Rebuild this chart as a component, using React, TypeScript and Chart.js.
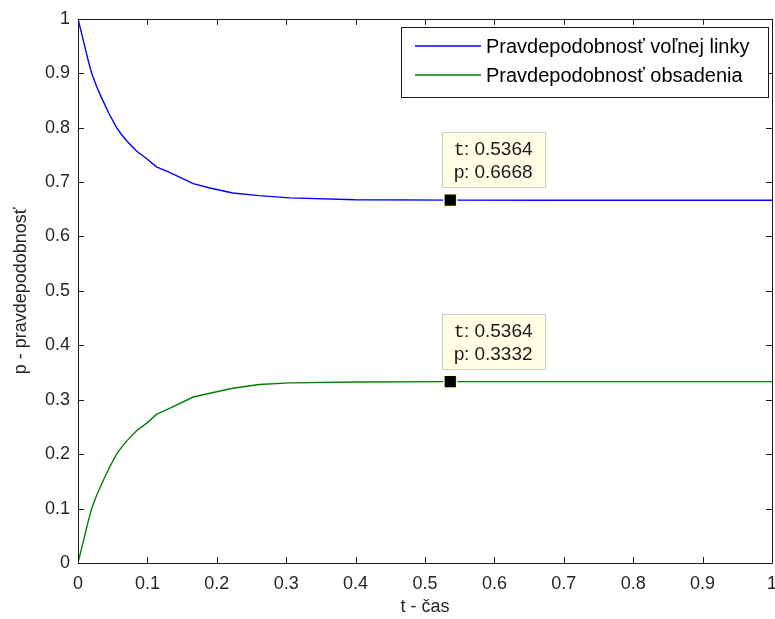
import React, { useEffect, useRef } from "react";
import { Chart, registerables } from "chart.js";

Chart.register(...registerables);

// time values (t) and probabilities
const tValues = [0, 0.005, 0.01, 0.015, 0.0197, 0.027, 0.035, 0.045, 0.0556, 0.063, 0.07, 0.0843, 0.1, 0.113, 0.132, 0.166, 0.19, 0.223, 0.261, 0.305, 0.4, 0.5364, 0.7, 0.85, 1.0];
const freeLine = [1.0, 0.974, 0.948, 0.922, 0.9, 0.875, 0.852, 0.825, 0.8, 0.787, 0.776, 0.757, 0.742, 0.728, 0.718, 0.697, 0.689, 0.68, 0.675, 0.671, 0.6675, 0.6668, 0.6667, 0.6667, 0.6667];
const occupied = [0.0, 0.026, 0.052, 0.078, 0.1, 0.125, 0.148, 0.175, 0.2, 0.213, 0.224, 0.243, 0.258, 0.273, 0.284, 0.305, 0.312, 0.321, 0.328, 0.331, 0.3325, 0.3332, 0.3333, 0.3333, 0.3333];

const tipT = [0.5364, 0.5364];
const tipP = [0.6668, 0.3332];

const legendLabels = ["Pravdepodobnosť voľnej linky", "Pravdepodobnosť obsadenia"];
const seriesColors = ["#0000ff", "#008000"];
const xTitle = "t - čas";
const yTitle = "p - pravdepodobnosť";

const SANS = "'Liberation Sans', Arial, sans-serif";
const MONO = "'Liberation Mono', 'Courier New', monospace";
const AXIS_COLOR = "#1a1a1a";
const TEXT_COLOR = "#262626";

const fmt = (v: number) => String(Number(Number(v).toFixed(1)));

const framePlugin = {
  id: "frame",
  afterDatasetsDraw(chart: any) {
    const { ctx, chartArea: a, scales } = chart;
    ctx.save();
    ctx.strokeStyle = AXIS_COLOR;
    ctx.lineWidth = 1;
    ctx.beginPath();
    ctx.rect(Math.round(a.left) + 0.5, Math.round(a.top) + 0.5, Math.round(a.right - a.left), Math.round(a.bottom - a.top));
    ctx.stroke();
    const tl = 6;
    ctx.beginPath();
    for (let i = 0; i <= 10; i++) {
      const v = i / 10;
      const x = Math.round(scales.x.getPixelForValue(v)) + 0.5;
      ctx.moveTo(x, a.bottom);
      ctx.lineTo(x, a.bottom - tl);
      ctx.moveTo(x, a.top);
      ctx.lineTo(x, a.top + tl);
      const y = Math.round(scales.y.getPixelForValue(v)) + 0.5;
      ctx.moveTo(a.left, y);
      ctx.lineTo(a.left + tl, y);
      ctx.moveTo(a.right, y);
      ctx.lineTo(a.right - tl, y);
    }
    ctx.stroke();
    ctx.restore();
  },
};

const legendPlugin = {
  id: "boxLegend",
  afterDraw(chart: any) {
    const { ctx } = chart;
    ctx.save();
    const x0 = 401.5, y0 = 27.5, w = 367, h = 70;
    ctx.fillStyle = "#ffffff";
    ctx.fillRect(x0, y0, w, h);
    ctx.strokeStyle = AXIS_COLOR;
    ctx.lineWidth = 1;
    ctx.strokeRect(x0, y0, w, h);
    const rows = [46, 75];
    ctx.font = `20px ${SANS}`;
    ctx.textBaseline = "middle";
    ctx.textAlign = "left";
    legendLabels.forEach((label, i) => {
      ctx.strokeStyle = seriesColors[i];
      ctx.lineWidth = 1.3;
      ctx.beginPath();
      ctx.moveTo(415, rows[i]);
      ctx.lineTo(481, rows[i]);
      ctx.stroke();
      ctx.fillStyle = "#000";
      ctx.fillText(label, 486, rows[i] + 1);
    });
    ctx.restore();
  },
};

const tipPlugin = {
  id: "dataTips",
  afterDraw(chart: any) {
    const { ctx, scales } = chart;
    ctx.save();
    tipT.forEach((t, i) => {
      const px = scales.x.getPixelForValue(t);
      const py = scales.y.getPixelForValue(tipP[i]);
      const bx = Math.round(px - 8) + 0.5;
      const by = Math.round(py - 68) + 0.5;
      const bw = 103, bh = 55;
      ctx.fillStyle = "#ffffe6";
      ctx.fillRect(bx, by, bw, bh);
      ctx.strokeStyle = "#cfcfc0";
      ctx.lineWidth = 1;
      ctx.strokeRect(bx, by, bw, bh);
      const lines: [string, string][] = [
        ["t", ": " + t.toFixed(4)],
        ["p", ": " + tipP[i].toFixed(4)],
      ];
      ctx.textBaseline = "middle";
      ctx.fillStyle = "#1a1a1a";
      lines.forEach((ln, j) => {
        const ty = by + 17 + j * 23;
        ctx.font = `19px ${MONO}`;
        ctx.fillText(ln[0], bx + 11, ty);
        const w0 = ctx.measureText(ln[0]).width;
        ctx.font = `19px ${SANS}`;
        ctx.fillText(ln[1], bx + 11 + w0 - 1, ty);
      });
    });
    ctx.restore();
  },
};

export default function App() {
  const ref = useRef<HTMLCanvasElement | null>(null);
  useEffect(() => {
    if (!ref.current) return;
    const chart = new Chart(ref.current, {
      type: "line",
      data: {
        datasets: [
          {
            label: "tips",
            data: tipT.map((t, i) => ({ x: t, y: tipP[i] })),
            showLine: false,
            pointStyle: "rect",
            pointRadius: 9,
            pointBackgroundColor: "#000",
            pointBorderColor: "#ffffcc",
            pointBorderWidth: 1.5,
            order: 0,
          },
          {
            label: legendLabels[0],
            data: tValues.map((t, i) => ({ x: t, y: freeLine[i] })),
            borderColor: seriesColors[0],
            borderWidth: 1.4,
            pointRadius: 0,
            tension: 0,
            order: 1,
          },
          {
            label: legendLabels[1],
            data: tValues.map((t, i) => ({ x: t, y: occupied[i] })),
            borderColor: seriesColors[1],
            borderWidth: 1.4,
            pointRadius: 0,
            tension: 0,
            order: 1,
          },
        ],
      },
      options: {
        responsive: false,
        animation: false,
        devicePixelRatio: 1,
        layout: { padding: { left: 0, right: 28, top: 17, bottom: 0 } },
        plugins: { legend: { display: false }, tooltip: { enabled: false } },
        scales: {
          x: {
            type: "linear",
            min: 0,
            max: 1,
            grid: { display: false, drawTicks: false, tickLength: 0 },
            border: { display: false },
            ticks: {
              stepSize: 0.1,
              autoSkip: false,
              maxRotation: 0,
              padding: 10,
              color: TEXT_COLOR,
              font: { family: SANS, size: 18 },
              callback: (v: any) => fmt(v),
            },
            title: {
              display: true,
              text: xTitle,
              color: TEXT_COLOR,
              font: { family: SANS, size: 18 },
              padding: { top: 0, bottom: 1 },
            },
            afterFit: (s: any) => {
              s.height = 56;
            },
          },
          y: {
            type: "linear",
            min: 0,
            max: 1,
            grid: { display: false, drawTicks: false, tickLength: 0 },
            border: { display: false },
            ticks: {
              stepSize: 0.1,
              autoSkip: false,
              padding: 8,
              color: TEXT_COLOR,
              font: { family: SANS, size: 18 },
              callback: (v: any) => fmt(v),
            },
            title: {
              display: true,
              text: yTitle,
              color: TEXT_COLOR,
              font: { family: SANS, size: 18 },
              padding: { top: 10, bottom: 0 },
            },
            afterFit: (s: any) => {
              s.width = 78;
            },
          },
        },
      },
      plugins: [framePlugin, legendPlugin, tipPlugin],
    });
    return () => chart.destroy();
  }, []);
  return (
    <div style={{ position: "fixed", left: 0, top: 0, width: 775, height: 619, overflow: "hidden", background: "#fff" }}>
      <canvas ref={ref} width={800} height={619} style={{ display: "block" }} />
    </div>
  );
}
